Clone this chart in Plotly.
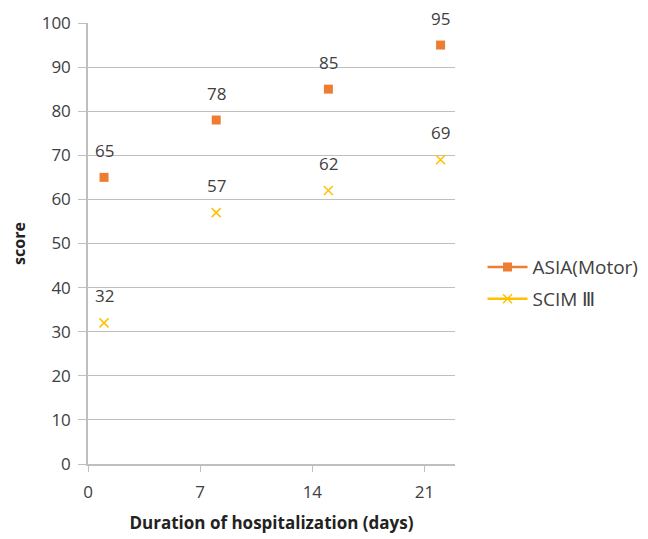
import plotly.graph_objects as go

days = [1, 8, 15, 22]
asia_motor = [65, 78, 85, 95]
scim3 = [32, 57, 62, 69]
x_ticks = [0, 7, 14, 21]
y_ticks = list(range(0, 101, 10))

ORANGE = "#ED7D31"
YELLOW = "#FFC000"
FONT = "Open Sans, Noto Sans, sans-serif"
TXT = "#404040"

fig = go.Figure()
fig.add_trace(go.Scatter(
    x=days, y=asia_motor, mode="markers", showlegend=False,
    marker=dict(symbol="square", size=9, color=ORANGE),
))
fig.add_trace(go.Scatter(
    x=days, y=scim3, mode="markers", showlegend=False,
    marker=dict(symbol="x-thin-open", size=9, line=dict(color=YELLOW, width=1.5), color=YELLOW),
))
# data labels
for series in (asia_motor, scim3):
    for xv, yv in zip(days, series):
        fig.add_annotation(x=xv, y=yv, text=str(yv), showarrow=False,
                           yshift=27, font=dict(size=17, color=TXT, family=FONT))

# legend entries
fig.add_trace(go.Scatter(
    x=[None], y=[None], mode="lines+markers", name="ASIA(Motor)", legendgroup="a",
    line=dict(color=ORANGE, width=2.5),
    marker=dict(symbol="square", size=9, color=ORANGE),
))
fig.add_trace(go.Scatter(
    x=[None], y=[None], mode="lines+markers", name="SCIM Ⅲ", legendgroup="b",
    line=dict(color=YELLOW, width=2.5),
    marker=dict(symbol="x-thin-open", size=9, line=dict(color=YELLOW, width=1.5), color=YELLOW),
))

fig.update_layout(
    width=648, height=539,
    margin=dict(l=80, r=179, t=15, b=83),
    plot_bgcolor="white", paper_bgcolor="white",
    font=dict(family=FONT, size=17, color=TXT),
    legend=dict(x=1.075, y=0.41, yanchor="middle", xanchor="left",
                traceorder="grouped",
                font=dict(size=19, color=TXT), tracegroupgap=4,
                itemwidth=40),
    xaxis=dict(
        range=[0, 22.9], tickvals=x_ticks, ticktext=[str(t) for t in x_ticks],
        showgrid=False, zeroline=False, showline=True, linecolor="#bfbfbf", linewidth=1.5,
        ticks="outside", ticklen=6, tickcolor="#bfbfbf", automargin=False,
        ticklabelstandoff=6,
        title=dict(text="<b>Duration of hospitalization (days)</b>", font=dict(size=17, color="#222"), standoff=15),
        tickfont=dict(size=17),
    ),
    yaxis=dict(
        range=[0, 100], tickvals=y_ticks, automargin=False,
        showgrid=True, gridcolor="#bfbfbf", gridwidth=1.2, zeroline=False,
        showline=True, linecolor="#bfbfbf", linewidth=1.5,
        ticks="outside", ticklen=8, tickcolor="#bfbfbf",
        ticklabelstandoff=4,
        title=dict(text="<b>score</b>", font=dict(size=16, color="#222"), standoff=24),
        tickfont=dict(size=17),
    ),
)

fig.write_html("out.html")
